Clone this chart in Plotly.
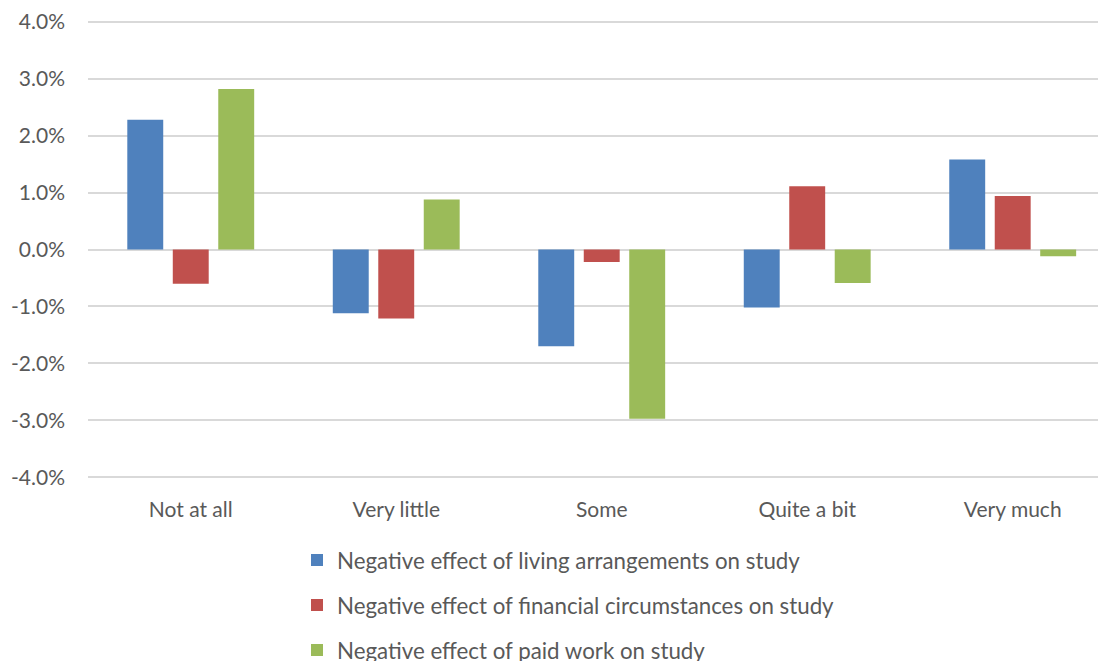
import plotly.graph_objects as go

categories = ["Not at all", "Very little", "Some", "Quite a bit", "Very much"]
living = [0.0228, -0.0112, -0.0170, -0.0102, 0.0158]
financial = [-0.0060, -0.0121, -0.0022, 0.0111, 0.0094]
paid_work = [0.0282, 0.0088, -0.0297, -0.0059, -0.0012]
series_names = [
    "Negative effect of living arrangements on study",
    "Negative effect of financial circumstances on study",
    "Negative effect of paid work on study",
]
y_tickvals = [-0.04, -0.03, -0.02, -0.01, 0.0, 0.01, 0.02, 0.03, 0.04]
y_ticktext = ["-4.0%", "-3.0%", "-2.0%", "-1.0%", "0.0%", "1.0%", "2.0%", "3.0%", "4.0%"]

colors = ["#4F81BD", "#C0504D", "#9BBB59"]
FONT = "Lato"
TXT = "#595959"

# page body has an 8px margin: figure is sized to end at the window edge
W, H = 1098, 653
ML, MT, MB = 80, 12, 182
PH = H - MT - MB

fig = go.Figure()
for i, (name, vals) in enumerate(zip(series_names, [living, financial, paid_work])):
    fig.add_trace(go.Bar(
        x=categories, y=vals, name=name,
        marker=dict(color=colors[i], line=dict(width=0)),
        legendgroup=f"g{i}",
        hoverinfo="skip",
    ))

fig.update_layout(
    width=W, height=H,
    margin=dict(l=ML, r=0, t=MT, b=MB, autoexpand=False),
    paper_bgcolor="white", plot_bgcolor="white",
    barmode="group", bargap=0.336, bargroupgap=0.21,
    font=dict(family=FONT, size=21, color=TXT),
    showlegend=True,
    legend=dict(
        orientation="v",
        x=(297 - 88) / 1018, xanchor="left",
        y=(H - MB - 531) / PH, yanchor="top",
        font=dict(family=FONT, size=22.3, color=TXT),
        tracegroupgap=13,
        maxheight=2000,
        bgcolor="rgba(0,0,0,0)",
    ),
    xaxis=dict(
        type="category",
        range=[-0.5, 4.454],
        showgrid=False, showline=False, ticks="",
        tickangle=0,
        tickfont=dict(family=FONT, size=21, color=TXT),
        ticklabelstandoff=16,
        fixedrange=True,
    ),
    yaxis=dict(
        range=[-0.0403, 0.0403],
        tickvals=y_tickvals, ticktext=y_ticktext,
        showgrid=True, gridcolor="#D9D9D9", gridwidth=1.5,
        zeroline=True, zerolinecolor="#D9D9D9", zerolinewidth=1.5,
        showline=False, ticks="",
        tickfont=dict(family=FONT, size=21, color=TXT),
        ticklabelstandoff=22,
        fixedrange=True,
    ),
)

fig.write_html("out.html")
